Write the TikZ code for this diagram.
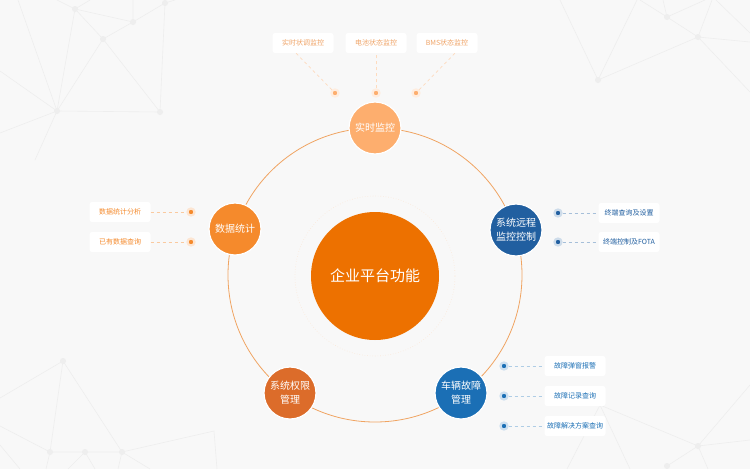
\documentclass[tikz,border=0pt]{standalone}
\usepackage{fontspec}
\setmainfont{Noto Sans CJK SC}
\usetikzlibrary{positioning}
\definecolor{bgC}{HTML}{F8F8F8}
\definecolor{netC}{HTML}{EEEEEE}
\definecolor{ringC}{HTML}{F0A462}
\definecolor{coreC}{HTML}{ED7100}
\definecolor{lightO}{HTML}{FDAE6E}
\definecolor{midO}{HTML}{F58A2C}
\definecolor{darkO}{HTML}{DC6C2A}
\definecolor{darkB}{HTML}{215FA0}
\definecolor{midB}{HTML}{1B6FB5}

\begin{document}
\begin{tikzpicture}[x=1pt,y=-1pt,
  func/.style={circle,minimum size=52pt,inner sep=0pt,draw=white,line width=1.2pt,text=white,font=\fontsize{10}{14}\selectfont,align=center},
  tag/.style={fill=white,rounded corners=2.5pt,minimum width=61pt,minimum height=20pt,inner sep=0pt,font=\fontsize{7}{8}\selectfont},
  tipdot/.style={circle,fill=#1,inner sep=0pt,minimum size=7pt,draw=#1!22,line width=2.2pt},
  link/.style={dash pattern=on 3pt off 3pt,line width=0.7pt},
  knot/.style={fill=netC}]
  \useasboundingbox (0,0) rectangle (750,469);
  \fill[bgC] (0,0) rectangle (750,469);
  % background net
  \begin{scope}[netC,line width=0.6pt]
    \draw (0,71) -- (57,111) -- (0,133) (18,0) -- (57,111) -- (35,160);
    \draw (90,0) -- (75,9) -- (133,22) -- (165,3) -- (160,112) -- (57,111) -- (75,9) -- (57,0);
    \draw (75,9) -- (103,39) -- (133,22) -- (133,0) (103,39) -- (160,112) (103,39) -- (57,111) (165,3) -- (175,0);
    \draw (560,0) -- (598,80) -- (637,0) (598,80) -- (698,37) -- (667,17) -- (640,0) (667,17) -- (663,0) (667,17) -- (705,0);
    \draw (698,37) -- (712,0) (698,37) -- (750,42) (698,37) -- (750,92) (716,0) -- (750,33);
    \draw (0,398) -- (63,361) -- (50,452) -- (85,452) -- (122,452) -- (63,361) (122,452) -- (214,431) -- (217,469);
    \draw (0,426) -- (50,452) -- (46,469) (85,452) -- (68,469) (85,452) -- (95,469) (122,452) -- (118,469) (122,452) -- (150,469) (0,445) -- (20,469);
    \draw (600,405) -- (698,446) -- (667,466) (600,405) -- (567,469) (600,405) -- (630,469) (698,446) -- (750,385) (698,446) -- (750,440) (698,446) -- (708,469);
  \end{scope}
  \foreach \p in {(75,9),(133,22),(103,39),(165,3),(57,111),(160,112),(598,80),(667,17),(698,37),(63,361),(50,452),(85,452),(122,452),(698,446),(667,466)}
    \fill[knot] \p circle (3);
  % ring and centre
  \node[circle,minimum size=294pt,draw=ringC,line width=0.8pt] (ring) at (375,275) {};
  \node[circle,minimum size=160pt,draw=ringC!25,dotted,line width=0.6pt] (halo) at (375,276) {};
  \node[circle,minimum size=128pt,inner sep=0pt,fill=coreC,text=white,font=\fontsize{15}{18}\selectfont] (core) at (375,276) {企业平台功能};
  % function nodes
  \node[func,fill=lightO] (monitor) at (375,128) {实时监控};
  \node[func,fill=midO] (stats) at (235,229) {数据统计};
  \node[func,fill=darkB] (remote) at (516,230) {系统远程\\监控控制};
  \node[func,fill=midB] (fault) at (461,393) {车辆故障\\管理};
  \node[func,fill=darkO] (perm) at (290,393) {系统权限\\管理};
  % top tags
  \node[tag,text=lightO!95!black] (m1) at (303,43) {实时状调监控};
  \node[tag,text=lightO!95!black] (m2) at (376,43) {电池状态监控};
  \node[tag,text=lightO!95!black] (m3) at (447,43) {BMS状态监控};
  \node[tipdot=lightO] (md1) at (335,93) {};
  \node[tipdot=lightO] (md2) at (376,93) {};
  \node[tipdot=lightO] (md3) at (416,93) {};
  \draw[link,lightO!45] (md1) -- ([xshift=-7pt]m1.south);
  \draw[link,lightO!45] (md2) -- (m2.south);
  \draw[link,lightO!45] (md3) -- ([xshift=8pt]m3.south);
  % left tags
  \node[tag,text=midO] (s1) at (120,212) {数据统计分析};
  \node[tag,text=midO] (s2) at (120,242) {已有数据查询};
  \node[tipdot=midO] (sd1) at (191,212) {};
  \node[tipdot=midO] (sd2) at (191,242) {};
  \draw[link,midO!45] (s1) -- (sd1);
  \draw[link,midO!45] (s2) -- (sd2);
  % right tags
  \node[tag,text=darkB] (r1) at (629,213) {终端查询及设置};
  \node[tag,text=darkB] (r2) at (629,242) {终端控制及FOTA};
  \node[tipdot=darkB] (rd1) at (558,213) {};
  \node[tipdot=darkB] (rd2) at (558,242) {};
  \draw[link,darkB!40] (rd1) -- (r1);
  \draw[link,darkB!40] (rd2) -- (r2);
  % bottom right tags
  \node[tag,text=midB] (f1) at (575,366) {故障弹窗报警};
  \node[tag,text=midB] (f2) at (575,396) {故障记录查询};
  \node[tag,text=midB] (f3) at (575,426) {故障解决方案查询};
  \node[tipdot=midB] (fd1) at (504,366) {};
  \node[tipdot=midB] (fd2) at (504,396) {};
  \node[tipdot=midB] (fd3) at (504,426) {};
  \draw[link,midB!35] (fd1) -- (f1);
  \draw[link,midB!35] (fd2) -- (f2);
  \draw[link,midB!35] (fd3) -- (f3);
\end{tikzpicture}
\end{document}
